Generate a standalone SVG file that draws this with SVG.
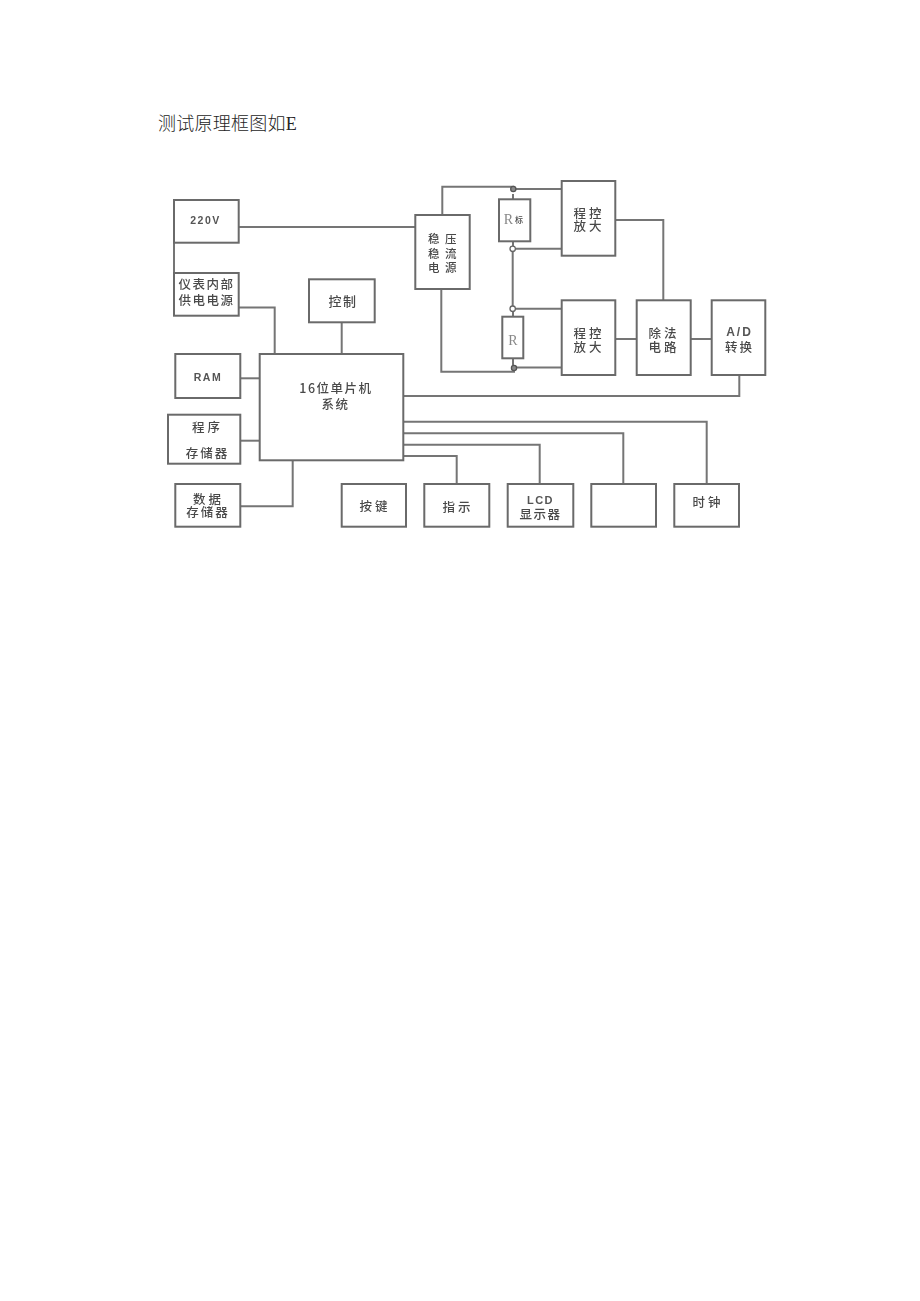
<svg xmlns="http://www.w3.org/2000/svg" width="920" height="1301" viewBox="0 0 920 1301">
<style>
.b{fill:#fff;stroke:#6a6a6a;stroke-width:2}
.w{fill:none;stroke:#757575;stroke-width:2}
.c{fill:#fff;stroke:#666;stroke-width:1.3}
.d{fill:#8a8a8a;stroke:#555;stroke-width:1.3}
text{font-family:"Noto Sans CJK SC","Liberation Sans",sans-serif;font-size:12.5px;font-weight:500;fill:#4a4a4a;text-anchor:middle;dominant-baseline:central;letter-spacing:1.5px;transform:translateY(-1px)}
.l{font-family:"Liberation Sans","Noto Sans CJK SC",sans-serif;font-weight:bold;font-size:10.5px;letter-spacing:1.5px;fill:#555;transform:none}
.r{font-family:"Liberation Serif",serif;font-size:14px;font-weight:400;fill:#888;letter-spacing:0;transform:none}
.s{font-size:11.5px}
.g{letter-spacing:3px}
.m{letter-spacing:2px}
.t{font-family:"Liberation Serif","Noto Sans CJK SC",serif;font-size:18px;fill:#222;text-anchor:start;dominant-baseline:auto;letter-spacing:.25px;font-weight:300;opacity:.99;transform:none}
</style>
<defs><filter id="soft" x="-5%" y="-5%" width="110%" height="110%"><feGaussianBlur stdDeviation="0.35"/></filter></defs>
<text class="t" x="158" y="130">测试原理框图如E</text>
<g filter="url(#soft)">
<g id="connectors">
<path class="w" d="M239 227H416"/>
<path class="w" d="M174 242V273"/>
<path class="w" d="M239 307.5H274.7V354"/>
<path class="w" d="M341.7 322V354"/>
<path class="w" d="M442.3 215V186.7H513.3V189H562"/>
<path class="w" d="M513 194V199"/>
<path class="w" d="M513 241V246M516 248.7H562"/>
<path class="w" d="M512.7 251.5V306M516 308.7H562"/>
<path class="w" d="M513 311.5V317M513 358V365"/>
<path class="w" d="M441.3 289V371.7H514V367.5H562"/>
<path class="w" d="M615 220H663.3V300"/>
<path class="w" d="M615 339H637"/>
<path class="w" d="M691 339H712"/>
<path class="w" d="M240 378.3H260"/>
<path class="w" d="M240 440.7H260"/>
<path class="w" d="M240 506.3H292.7V460"/>
<path class="w" d="M403 396H739.3V375"/>
<path class="w" d="M403 421.7H706.7V484"/>
<path class="w" d="M403 433.3H623.3V484"/>
<path class="w" d="M403 444.7H539.7V484"/>
<path class="w" d="M403 456H456.7V484"/>
<circle class="d" cx="513.3" cy="189" r="2.6"/>
<circle class="c" cx="512.7" cy="248.8" r="2.7"/>
<circle class="c" cx="512.7" cy="308.7" r="2.7"/>
<circle class="d" cx="514" cy="368" r="2.6"/>
</g>
<g id="n220v"><rect class="b" x="174" y="200" width="64.7" height="42.7"/><text class="l" x="205.5" y="220">220V</text></g>
<g id="power"><rect class="b" x="174" y="273" width="64.7" height="42.7"/><text><tspan x="206.5" y="284">仪表内部</tspan><tspan x="206.5" y="300">供电电源</tspan></text></g>
<g id="control"><rect class="b" x="309" y="279.3" width="65.7" height="43"/><text x="343" y="301" style="font-size:13px">控制</text></g>
<g id="source"><rect class="b" x="415.3" y="215" width="54.4" height="74"/>
<text class="s"><tspan x="434.5" y="239">稳</tspan><tspan x="434.5" y="254">稳</tspan><tspan x="434.5" y="267.5">电</tspan></text>
<text class="s"><tspan x="451.5" y="239">压</tspan><tspan x="451.5" y="254">流</tspan><tspan x="451.5" y="267.5">源</tspan></text></g>
<g id="rstd"><rect class="b" x="499" y="199.3" width="31.3" height="42"/><text class="r" x="508.5" y="219">R</text><text x="519" y="220" style="font-size:8px;letter-spacing:0">标</text></g>
<g id="r"><rect class="b" x="502.3" y="316.7" width="21" height="41.6"/><text class="r" x="513" y="340">R</text></g>
<g id="amp1"><rect class="b" x="561.7" y="181" width="53.6" height="74.7"/><text class="g"><tspan x="589" y="212.7">程控</tspan><tspan x="589" y="225.5">放大</tspan></text></g>
<g id="amp2"><rect class="b" x="561.7" y="300.3" width="53.6" height="74.7"/><text class="g"><tspan x="589" y="333.3">程控</tspan><tspan x="589" y="347.3">放大</tspan></text></g>
<g id="div"><rect class="b" x="636.7" y="300.3" width="54" height="74.7"/><text class="g"><tspan x="664" y="333.3">除法</tspan><tspan x="664" y="347.3">电路</tspan></text></g>
<g id="adc"><rect class="b" x="711.7" y="300.3" width="53.6" height="74.7"/><text class="m"><tspan x="739.5" y="333.3" style="font-family:'Liberation Sans',sans-serif;font-weight:bold;font-size:12px;fill:#555">A/D</tspan><tspan x="739.5" y="347.3">转换</tspan></text></g>
<g id="mcu"><rect class="b" x="259.7" y="354" width="143.6" height="106.3"/><text><tspan x="336" y="387.7">16位单片机</tspan><tspan x="335.5" y="404">系统</tspan></text></g>
<g id="ram"><rect class="b" x="175.3" y="354" width="65" height="44"/><text class="l" x="208" y="376.7">RAM</text></g>
<g id="prog"><rect class="b" x="168" y="414.7" width="72.3" height="49"/><text x="207.5" y="427" class="g">程序</text><text x="207.5" y="453" class="m">存储器</text></g>
<g id="data"><rect class="b" x="175.3" y="484" width="65" height="42.7"/><text class="m"><tspan x="208.5" y="499" style="letter-spacing:3px">数据</tspan><tspan x="208" y="512">存储器</tspan></text></g>
<g id="keys"><rect class="b" x="341.7" y="484" width="64.3" height="42.7"/><text x="375" y="506.7" class="g">按键</text></g>
<g id="ind"><rect class="b" x="424.3" y="484" width="65" height="42.7"/><text x="458" y="507.3" class="g">指示</text></g>
<g id="lcd"><rect class="b" x="507.7" y="484" width="65.6" height="42.7"/><text><tspan x="540.5" y="501" style="font-family:'Liberation Sans',sans-serif;font-weight:bold;font-size:11px;fill:#555">LCD</tspan><tspan x="540.5" y="514.3">显示器</tspan></text></g>
<g id="blank"><rect class="b" x="591.3" y="484" width="64.7" height="42.7"/></g>
<g id="clock"><rect class="b" x="674.3" y="484" width="64.7" height="42.7"/><text x="708" y="502.7" class="g">时钟</text></g>
</g>
</svg>
